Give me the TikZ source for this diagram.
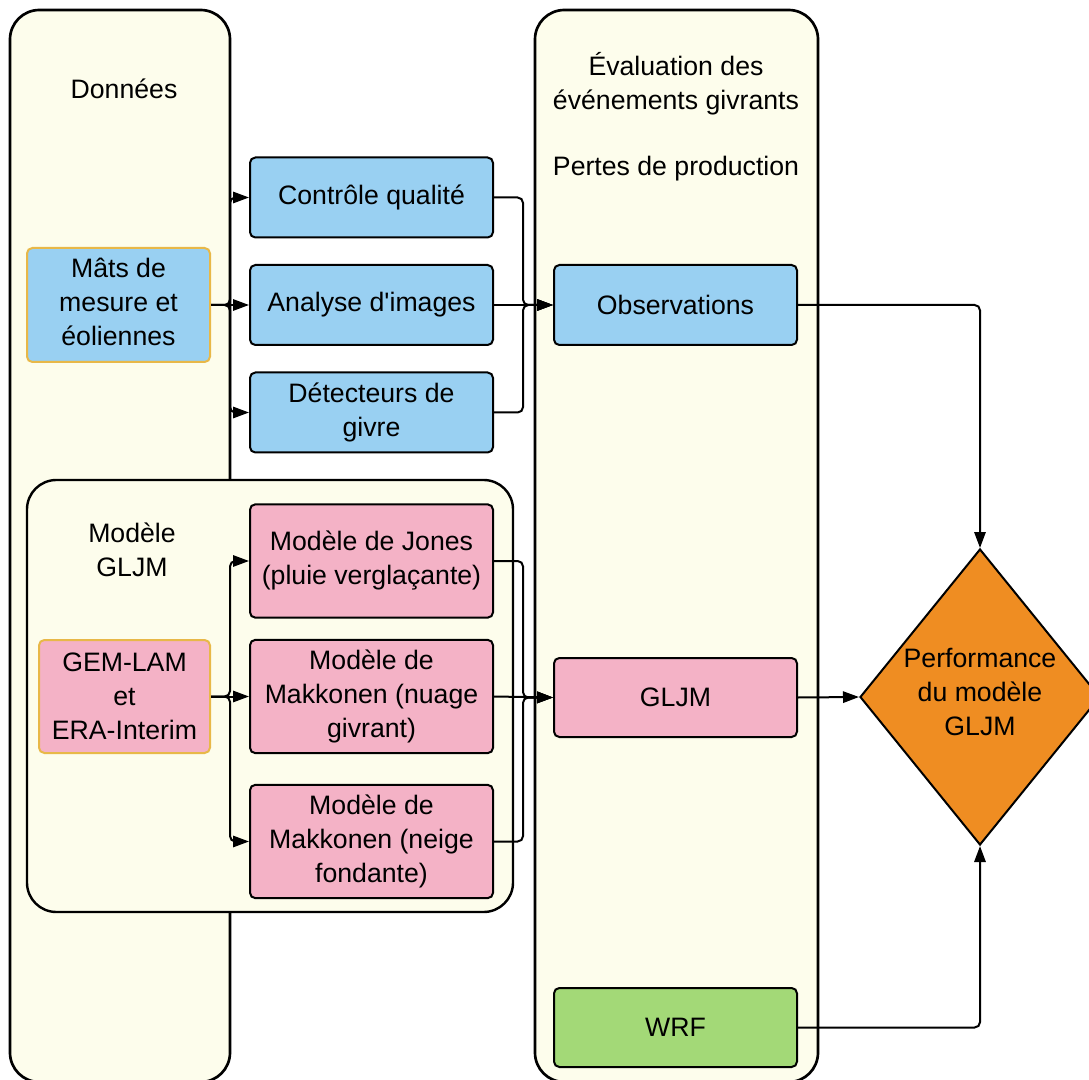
\documentclass[tikz,border=0pt]{standalone}
\usepackage{fontspec}
\setmainfont{Liberation Sans}
\usetikzlibrary{arrows.meta,shapes.geometric,calc}
\definecolor{lanefill}{HTML}{FDFDEC}
\definecolor{bluebox}{HTML}{99D0F2}
\definecolor{pinkbox}{HTML}{F4B2C6}
\definecolor{greenbox}{HTML}{A3D977}
\definecolor{orangedia}{HTML}{EF8D22}
\definecolor{srcborder}{HTML}{E8B848}
\begin{document}
\begin{tikzpicture}[x=0.75pt,y=-0.75pt,
  font=\fontsize{20}{25.5}\selectfont,
  lane/.style={draw=black,line width=2pt,fill=lanefill,rounded corners=22pt},
  box/.style={draw=black,line width=1.5pt,rounded corners=4pt,align=center,inner sep=0pt,
    minimum width=182.25pt},
  bluenode/.style={box,fill=bluebox,minimum height=60pt},
  pinknode/.style={box,fill=pinkbox,minimum height=85pt},
  srcnode/.style={box,draw=srcborder},
  lbl/.style={align=center,inner sep=0pt},
  arr/.style={-{Triangle[length=12pt,width=8.5pt]},line width=1.5pt,rounded corners=4pt}]
\useasboundingbox (0,0) rectangle (1089,1080);

% lanes
\path[lane] (10,10) rectangle (230,1082);
\path[lane] (535,10) rectangle (818,1082);
\node[lbl] (donnees) at (124,89) {Données};
\node[lbl] (evaltitle) at (676,84) {Évaluation des\\événements givrants};
\node[lbl] (pertes) at (676,169) {Pertes de production};

% inner container
\path[lane,line width=1.8pt] (27,480) rectangle (513,912);
\node[lbl] (modlbl) at (132,550) {Modèle\\GLJM};

% data nodes
\node[srcnode,fill=bluebox,minimum width=137.25pt,minimum height=85.5pt] (mats) at (118.5,305) {};
\node[lbl] (matslbl) at (118.5,302) {Mâts de\\mesure et\\éoliennes};
\node[bluenode] (ctrl) at (371.5,197.5) {Contrôle qualité};
\node[bluenode] (ana) at (371.5,305) {Analyse d\textquotesingle images};
\node[bluenode] (det) at (371.5,412.5) {Détecteurs de\\givre};
\node[bluenode] (obs) at (675.5,305) {Observations};

\node[srcnode,fill=pinkbox,minimum width=128.25pt,minimum height=84.75pt] (gem) at (124.5,696.5) {GEM-LAM\\et\\ERA-Interim};
\node[pinknode] (jones) at (371.5,561) {Modèle de Jones\\(pluie verglaçante)};
\node[pinknode] (mak1) at (371.5,696.5) {Modèle de\\Makkonen (nuage\\givrant)};
\node[pinknode] (mak2) at (371.5,841.5) {Modèle de\\Makkonen (neige\\fondante)};
\node[box,fill=pinkbox,minimum height=59.25pt] (gljm) at (675.5,697.5) {GLJM};
\node[box,fill=greenbox,minimum height=59.25pt] (wrf) at (675.5,1027.5) {WRF};

\node[diamond,draw=black,line width=1.5pt,fill=orangedia,inner sep=0pt,
  minimum width=180pt,minimum height=222pt] (perf) at (980,697) {};
\node[lbl] (perflbl) at (980,692) {Performance\\du modèle\\GLJM};

% connectors
\coordinate (j1) at (230,305);
\coordinate (j2) at (523,305);
\coordinate (j3) at (230,696.5);
\coordinate (j4) at (523,697.5);

\draw[arr] (mats.east) -- (j1) |- (ctrl.west);
\draw[arr] (mats.east) -- (ana.west);
\draw[arr] (mats.east) -- (j1) |- (det.west);

\draw[arr] (ctrl.east) -| (j2) -- (obs.west);
\draw[arr] (ana.east) -- (obs.west);
\draw[arr] (det.east) -| (j2) -- (obs.west);

\draw[arr] (gem.east) -- (j3) |- (jones.west);
\draw[arr] (gem.east) -- (mak1.west);
\draw[arr] (gem.east) -- (j3) |- (mak2.west);

\draw[arr] (jones.east) -| (j4) -- (gljm.west);
\draw[arr] (mak1.east) -- (gljm.west);
\draw[arr] (mak2.east) -| (j4) -- (gljm.west);

\draw[arr] (obs.east) -| (perf.north);
\draw[arr] (gljm.east) -- (perf.west);
\draw[arr] (wrf.east) -| (perf.south);
\end{tikzpicture}
\end{document}
